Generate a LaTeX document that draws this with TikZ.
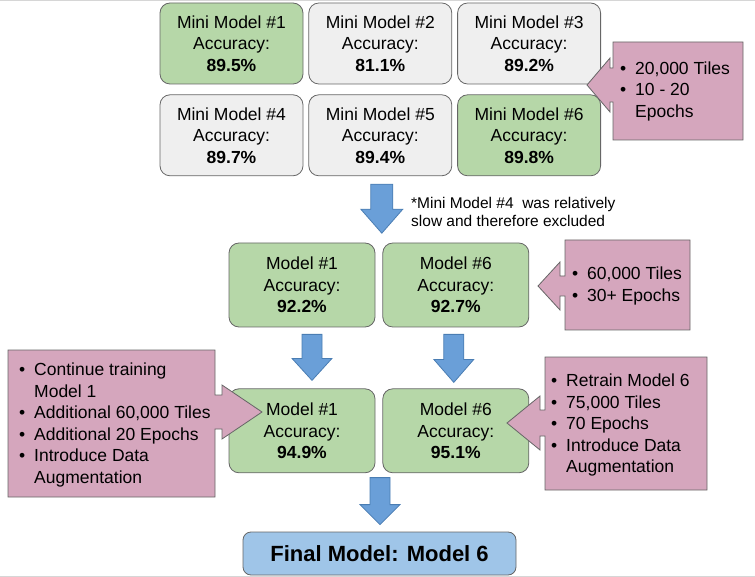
\documentclass[tikz,border=0pt]{standalone}
\usepackage{fontspec}
\setmainfont{Liberation Sans}
\usetikzlibrary{positioning,calc}
\definecolor{boxgreen}{HTML}{B6D7A8}
\definecolor{boxgray}{HTML}{EFEFEF}
\definecolor{notepink}{HTML}{D5A6BD}
\definecolor{arrowblue}{HTML}{6A9FD8}
\definecolor{arrowedge}{HTML}{4A7DB3}
\definecolor{finalblue}{HTML}{9FC5E8}
\definecolor{edgegray}{HTML}{666666}
\definecolor{framegray}{HTML}{D6D6D6}
\newcommand\itm{\makebox[15pt][l]{•}}
\newcommand\cont{\hspace*{15pt}}

\begin{document}
\begin{tikzpicture}[x=1pt,y=-1pt,
    every node/.style={font=\fontsize{17.5}{21.5}\selectfont, inner sep=0pt},
    modelbox/.style={draw=edgegray, line width=0.8pt, rounded corners=10pt,
      align=center, minimum width=143pt, minimum height=81pt},
    bigbox/.style={modelbox, minimum width=146pt, minimum height=84pt, fill=boxgreen},
    bluearrow/.style={fill=arrowblue, draw=arrowedge, line width=0.8pt},
    callout/.style={fill=notepink, draw=edgegray, line width=0.8pt},
    notetext/.style={anchor=west, align=left}]
  \useasboundingbox (0,0) rectangle (755,577);
  \draw[framegray] (0,0.5) -- (755,0.5);
  \draw[framegray] (0,576) -- (755,576);

  % mini models
  \begin{scope}[every node/.append style={modelbox, fill=boxgray}]
    \node (mm1)[fill=boxgreen] at (231.5,43.5) {Mini Model \#1\\Accuracy:\\\textbf{89.5\%}};
    \node (mm2) [right=5pt of mm1] {Mini Model \#2\\Accuracy:\\\textbf{81.1\%}};
    \node (mm3) [right=5pt of mm2] {Mini Model \#3\\Accuracy:\\\textbf{89.2\%}};
    \node (mm4) [below=10pt of mm1] {Mini Model \#4\\Accuracy:\\\textbf{89.7\%}};
    \node (mm5) [right=5pt of mm4] {Mini Model \#5\\Accuracy:\\\textbf{89.4\%}};
    \node (mm6)[fill=boxgreen] [right=5pt of mm5] {Mini Model \#6\\Accuracy:\\\textbf{89.8\%}};
  \end{scope}

  % models
  \node (m1)[bigbox] at (302,285) {Model \#1\\Accuracy:\\\textbf{92.2\%}};
  \node (m6)[bigbox] [right=7pt of m1] {Model \#6\\Accuracy:\\\textbf{92.7\%}};
  \node (b1)[bigbox] [below=61pt of m1] {Model \#1\\Accuracy:\\\textbf{94.9\%}};
  \node (b6)[bigbox] [right=7pt of b1] {Model \#6\\Accuracy:\\\textbf{95.1\%}};
  \node (fin)[modelbox, fill=finalblue, rounded corners=8pt, minimum width=273pt,
    minimum height=43pt, font=\fontsize{22}{26}\selectfont\bfseries] at (379.5,553.5)
    {Final Model: Model 6};

  \node (note)[notetext, font=\fontsize{15.5}{18}\selectfont] at (411,212)
    {*Mini Model \#4\ \ was relatively\\slow and therefore excluded};

  % blue arrows
  \draw[bluearrow] ($(mm5.south)+(-9.5,8)$) -- ++(22,0) -- ++(0,25) -- ++(10,0)
    -- ++(-21,24) -- ++(-21,-24) -- ++(10,0) -- cycle;
  \draw[bluearrow] ($(m1.south)+(0,7)$) -- ++(20,0) -- ++(0,24) -- ++(10,0)
    -- ++(-20,22) -- ++(-20,-22) -- ++(10,0) -- cycle;
  \draw[bluearrow] ($(m6.south)+(-12,7)$) -- ++(20,0) -- ++(0,25) -- ++(10,0)
    -- ++(-20,23) -- ++(-20,-23) -- ++(10,0) -- cycle;
  \draw[bluearrow] ($(fin.north)+(-9.5,-54)$) -- ++(20,0) -- ++(0,27) -- ++(10,0)
    -- ++(-20,20) -- ++(-20,-20) -- ++(10,0) -- cycle;

  % callouts
  \draw[callout] (613,42) -- (743,42) -- (743,140) -- (613,140) -- (613,102) -- (610,102)
    -- (610,112) -- (587,85) -- (610,58) -- (610,68) -- (613,68) -- cycle;
  \node (c1)[notetext] at (620,91) {\itm 20,000 Tiles\\\itm 10 - 20\\\cont Epochs};

  \draw[callout] (565,240) -- (690,240) -- (690,330) -- (565,330) -- (565,296) -- (560,296)
    -- (560,310) -- (538,286) -- (560,262) -- (560,276) -- (565,276) -- cycle;
  \node (c2)[notetext] at (572,286) {\itm 60,000 Tiles\\\itm 30+ Epochs};

  \draw[callout] (8,350) -- (215,350) -- (215,395) -- (222,395) -- (222,385) -- (262,412)
    -- (222,439) -- (222,429) -- (215,429) -- (215,497) -- (8,497) -- cycle;
  \node (c3)[notetext] at (19,425) {\itm Continue training\\\cont Model 1\\\itm Additional 60,000 Tiles\\\itm Additional 20 Epochs\\\itm Introduce Data\\\cont Augmentation};

  \draw[callout] (545,357) -- (707,357) -- (707,490) -- (545,490) -- (545,436) -- (540,436)
    -- (540,450) -- (507,423) -- (540,396) -- (540,410) -- (545,410) -- cycle;
  \node (c4)[notetext] at (551,425) {\itm Retrain Model 6\\\itm 75,000 Tiles\\\itm 70 Epochs\\\itm Introduce Data\\\cont Augmentation};
\end{tikzpicture}
\end{document}
